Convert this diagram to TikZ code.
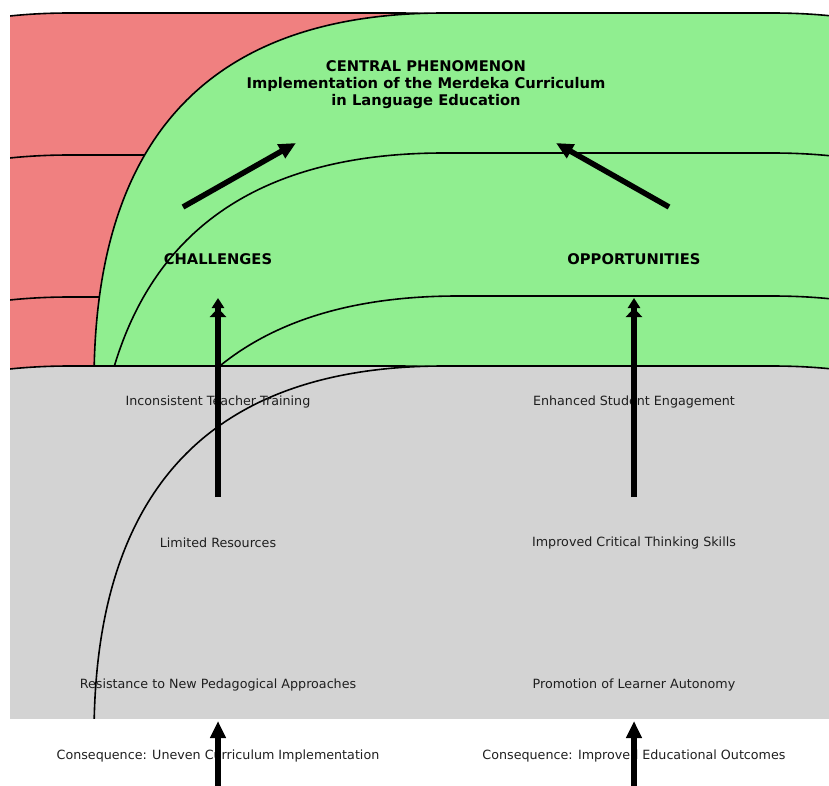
\documentclass[tikz,border=0pt]{standalone}
\usepackage{fontspec}
\setmainfont{DejaVu Sans}
\usepackage{xcolor}
\usepackage{tikz}
\usetikzlibrary{arrows.meta}

\definecolor{boxred}{HTML}{F08080}
\definecolor{boxgreen}{HTML}{90EE90}
\definecolor{boxgrey}{HTML}{D3D3D3}

% big rounded box: style, left edge, right edge, top
\newcommand{\roundbox}[4]{%
  \draw[#1] (#2, 900) -- (#2, #4+370)
      .. controls +(0,-246.7) and +(-233.3,0) .. (#2+350, #4)
      -- (#3-350, #4)
      .. controls +(233.3,0) and +(0,-246.7) .. (#3, #4+370)
      -- (#3, 900) -- cycle;}

\begin{document}
\begin{tikzpicture}[x=1pt, y=-1pt,
    boxline/.style={draw=black, line width=1.6pt},
    head/.style={font=\fontsize{14.7}{17}\selectfont\bfseries, align=center},
    item/.style={font=\fontsize{12.7}{15}\selectfont, text=black!88},
    flow/.style={line width=5.5pt, -{Triangle[length=17pt,width=15pt]}},
    pine/.style={line width=6pt, -{Triangle[length=9pt,width=16pt] Triangle[length=10pt,width=12pt]}}]
      \useasboundingbox (0, 0) rectangle (829, 786);
      \begin{scope}
        \clip (10, 13) rectangle (829, 718);
        % red boxes behind
        \roundbox{boxline, fill=boxred}{-280}{748}{13}
        \roundbox{boxline, fill=boxred}{-280}{748}{155}
        \roundbox{boxline, fill=boxred}{-280}{748}{297}
        % green boxes
        \roundbox{boxline, fill=boxgreen}{94}{1122}{13}
        \roundbox{boxline, fill=boxgreen}{94}{1122}{153}
        \roundbox{boxline, fill=boxgreen}{108}{1122}{296}
        % grey boxes
        \roundbox{boxline, fill=boxgrey}{-280}{748}{366}
        \roundbox{boxline, fill=boxgrey}{94}{1122}{366}
      \end{scope}

      \node[head] (central) at (426, 84.5)
          {CENTRAL PHENOMENON\\Implementation of the Merdeka Curriculum\\in Language Education};
      \node[head] (chal) at (218, 259.5) {CHALLENGES};
      \node[head] (opp)  at (634, 259.5) {OPPORTUNITIES};

      \node[item] (teach)  at (218, 402) {Inconsistent Teacher Training};
      \node[item] (resour) at (218, 543) {Limited Resources};
      \node[item] (resist) at (218, 684.5) {Resistance to New Pedagogical Approaches};
      \node[item] (engage) at (634, 402) {Enhanced Student Engagement};
      \node[item] (critic) at (634, 543) {Improved Critical Thinking Skills};
      \node[item] (auton)  at (634, 684.5) {Promotion of Learner Autonomy};

      \node[item] (consL) at (218, 755.5) {Consequence: Uneven Curriculum Implementation};
      \node[item] (consR) at (634, 755.5) {Consequence: Improved Educational Outcomes};

      % arrow ends
      \coordinate (chalTail) at (183, 207);
      \coordinate (chalTip)  at (296, 143);
      \coordinate (oppTail)  at (669, 207);
      \coordinate (oppTip)   at (556, 143);
      \coordinate (botL)     at (218, 786);
      \coordinate (botR)     at (634, 786);

      \draw[flow] (chalTail) -- (chalTip);
      \draw[flow] (oppTail) -- (oppTip);
      \draw[pine] ([yshift=46pt]resour.center) -- ([yshift=-38.5pt]chal.center);
      \draw[pine] ([yshift=46pt]critic.center) -- ([yshift=-38.5pt]opp.center);
      \draw[flow] (botL) -- ([yshift=34.5pt]consL.center);
      \draw[flow] (botR) -- ([yshift=34.5pt]consR.center);
\end{tikzpicture}
\end{document}
